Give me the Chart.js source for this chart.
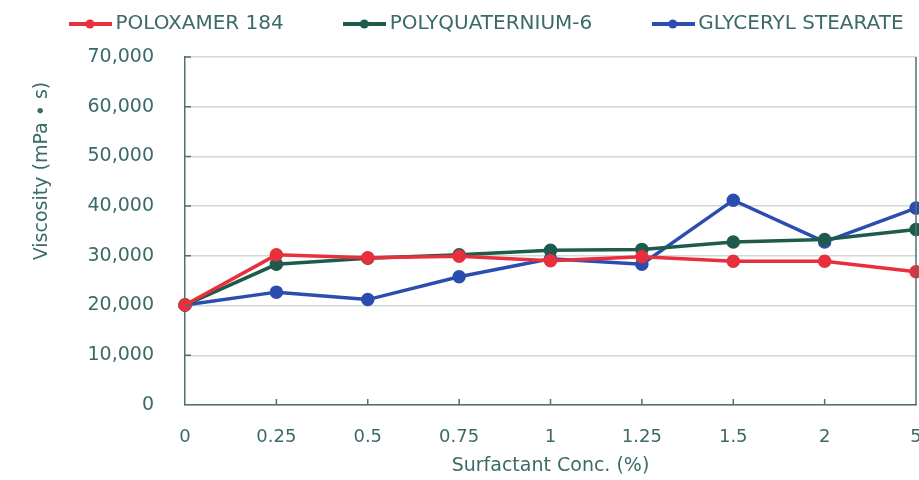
<!DOCTYPE html>
<html>
<head>
<meta charset="utf-8">
<script src="https://cdn.jsdelivr.net/npm/chart.js@4.4.1/dist/chart.umd.min.js"></script>
<style>
html, body { margin: 0; padding: 0; background: #fff; }
#wrap { width: 919px; height: 480px; }
</style>
</head>
<body>
<div id="wrap"><canvas id="myChart"></canvas></div>
<script>
var xlabels = ['0', '0.25', '0.5', '0.75', '1', '1.25', '1.5', '2', '5'];
var poloxamer = [20100, 30200, 29600, 29900, 29000, 29800, 28900, 28900, 26800];
var polyquat = [20100, 28300, 29500, 30200, 31100, 31300, 32800, 33300, 35300];
var glyceryl = [20100, 22700, 21200, 25800, 29400, 28300, 41200, 32800, 39600];
var seriesNames = ['POLOXAMER 184', 'POLYQUATERNIUM-6', 'GLYCERYL STEARATE'];
var yTitle = 'Viscosity (mPa \u2022 s)';
var xTitle = 'Surfactant Conc. (%)';

var colors = ['#e8303c', '#1f5b4d', '#2b4db0'];
var textColor = '#3b6a68';
var axisColor = '#4d7170';
var fontName = "'DejaVu Sans', sans-serif";

// little line+dot picture for the legend (sticks out a bit on the left)
function makeKey(color) {
    var c = document.createElement('canvas');
    c.width = 43; c.height = 12;
    var g = c.getContext('2d');
    g.strokeStyle = color;
    g.lineWidth = 4;
    g.beginPath(); g.moveTo(0, 6); g.lineTo(43, 6); g.stroke();
    g.fillStyle = color;
    g.beginPath(); g.arc(21, 6, 4.5, 0, Math.PI * 2); g.fill();
    return c;
}
var keys = colors.map(makeKey);

// frame: right border, inner ticks, y title
const framePlugin = {
    id: 'frame',
    afterDraw(chart) {
        const ctx = chart.ctx;
        const a = chart.chartArea;
        const xs = chart.scales.x;
        const ys = chart.scales.y;
        ctx.save();
        ctx.strokeStyle = axisColor;
        ctx.lineWidth = 1.5;
        ctx.beginPath();
        ctx.moveTo(a.right, a.top);
        ctx.lineTo(a.right, a.bottom);
        for (let i = 1; i < xlabels.length - 1; i++) {
            const px = xs.getPixelForTick(i);
            ctx.moveTo(px, a.bottom);
            ctx.lineTo(px, a.bottom - 6);
        }
        for (let i = 1; i < ys.ticks.length; i++) {
            const py = ys.getPixelForTick(i);
            ctx.moveTo(a.left, py);
            ctx.lineTo(a.left + 6, py);
        }
        ctx.stroke();
        ctx.translate(42, 171);
        ctx.rotate(-Math.PI / 2);
        ctx.fillStyle = textColor;
        ctx.font = "19px " + fontName;
        ctx.textAlign = 'center';
        ctx.textBaseline = 'middle';
        ctx.fillText(yTitle, 0, 0);
        ctx.restore();
    }
};

function makeSet(i, data) {
    return {
        label: seriesNames[i],
        data: data,
        borderColor: colors[i],
        backgroundColor: colors[i],
        borderWidth: 3.5,
        pointRadius: 5,
        pointHoverRadius: 5,
        tension: 0
    };
}

const ctx = document.getElementById('myChart');
new Chart(ctx, {
    type: 'line',
    data: {
        labels: xlabels,
        datasets: [
            makeSet(0, poloxamer),
            makeSet(1, polyquat),
            makeSet(2, glyceryl)
        ]
    },
    options: {
        responsive: true,
        maintainAspectRatio: false,
        animation: false,
        layout: { autoPadding: false, padding: { left: 0, right: -60, top: -52, bottom: 3 } },
        plugins: {
            tooltip: { enabled: false },
            legend: {
                position: 'top',
                labels: {
                    usePointStyle: true,
                    pointStyleWidth: 30,
                    padding: 66,
                    color: textColor,
                    font: { family: fontName, size: 20 },
                    generateLabels: function (chart) {
                        return chart.data.datasets.map(function (ds, i) {
                            return {
                                text: ds.label,
                                pointStyle: keys[i],
                                fillStyle: colors[i],
                                strokeStyle: colors[i],
                                lineWidth: 0,
                                fontColor: textColor,
                                hidden: false,
                                datasetIndex: i
                            };
                        });
                    }
                }
            },
            // empty spacer between legend and plot
            subtitle: {
                display: true,
                text: '',
                weight: 500,
                padding: 0,
                font: { size: 10.8 }
            }
        },
        scales: {
            x: {
                offset: false,
                grid: { display: false, drawTicks: false },
                border: { color: axisColor, width: 1.5 },
                ticks: { color: textColor, padding: 22, font: { family: fontName, size: 18 } },
                title: {
                    display: true,
                    text: xTitle,
                    color: textColor,
                    padding: { top: 5.6, bottom: 0 },
                    font: { family: fontName, size: 19 }
                },
                afterFit: function (scale) {
                    scale.height = 72;
                    scale.paddingRight = 3;
                    scale.paddingLeft = 0;
                }
            },
            y: {
                min: 0,
                max: 70000,
                grid: { color: '#cfd9d8', lineWidth: 1.5, drawTicks: false },
                border: { color: axisColor, width: 1.5 },
                ticks: {
                    stepSize: 10000,
                    color: textColor,
                    padding: 31,
                    font: { family: fontName, size: 19 },
                    callback: function (v) { return v.toLocaleString('en-US'); }
                },
                afterFit: function (scale) {
                    scale.width = 185;
                    scale.paddingTop = 0;
                    scale.paddingBottom = 0;
                }
            }
        }
    },
    plugins: [framePlugin]
});
</script>
</body>
</html>
